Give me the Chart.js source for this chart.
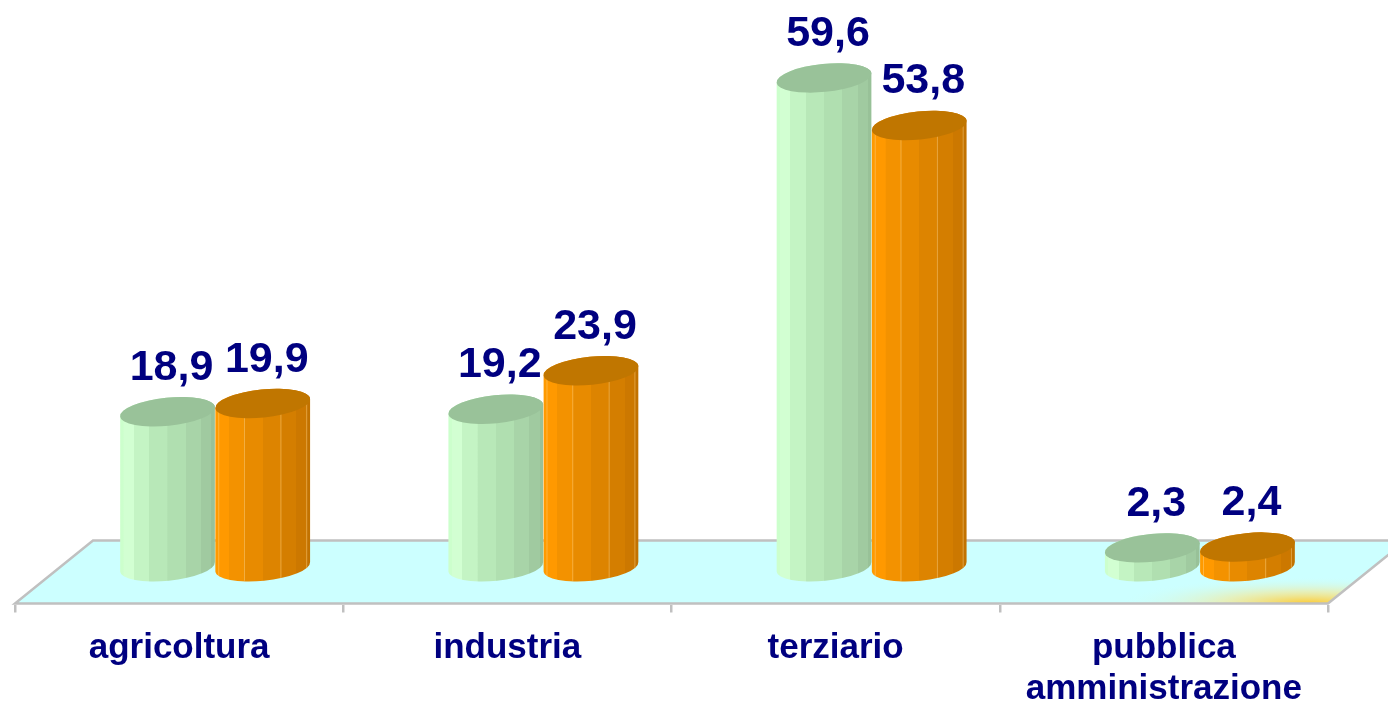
<!DOCTYPE html>
<html>
<head>
<meta charset="utf-8">
<script src="https://cdn.jsdelivr.net/npm/chart.js@4.4.1/dist/chart.umd.min.js"></script>
<style>
  html, body { margin: 0; background: #fff; }
  #wrap { width: 1388px; height: 709px; }
</style>
</head>
<body>
<div id="wrap"><canvas id="grafico"></canvas></div>
<script>
// dati
const categorie = ['agricoltura', 'industria', 'terziario', ['pubblica', 'amministrazione']];
const serieVerde = [18.9, 19.2, 59.6, 2.3];
const serieArancio = [19.9, 23.9, 53.8, 2.4];

const BLU = '#000080';
const PROF = 36;   // spostamento prospettico delle colonne
const RY = 14;     // semiasse verticale dell'ellisse

// colori delle facce (da sinistra a destra)
const facceVerde = ['#ccffcc', '#d2ffd2', '#c4f4c4', '#b8e8b8', '#b0dfb0', '#a8d4a8', '#a0caa0', '#98c198'];
const facceArancio = ['#ff9a00', '#ff9900', '#f39200', '#e88b00', '#dd8400', '#d47e00', '#cc7800', '#c27200'];

function gradienteFacce(ctx, x0, x1, colori) {
  const g = ctx.createLinearGradient(x0, 0, x1, 0);
  const n = colori.length;
  for (let i = 0; i < n; i++) {
    // facce piu strette ai bordi come su un cilindro
    const a = 0.5 - Math.cos(Math.PI * i / n) / 2;
    const b = 0.5 - Math.cos(Math.PI * (i + 1) / n) / 2;
    g.addColorStop(a, colori[i]);
    g.addColorStop(Math.max(a, b - 0.001), colori[i]);
  }
  return g;
}

function cilindro(ctx, cx, top, base, w, colori, coloreTop, righe) {
  const rx = w / 2;
  const tilt = -0.1;
  ctx.save();
  // corpo
  ctx.beginPath();
  ctx.ellipse(cx, base, rx, RY, tilt, 0, Math.PI, false);
  ctx.ellipse(cx, top, rx, RY, tilt, Math.PI, 0, false);
  ctx.closePath();
  ctx.fillStyle = gradienteFacce(ctx, cx - rx, cx + rx, colori);
  ctx.fill();
  if (righe) {
    ctx.clip();
    ctx.strokeStyle = 'rgba(255,215,140,0.45)';
    ctx.lineWidth = 1;
    const n = colori.length;
    for (let i = 1; i < n; i += 2) {
      const x = cx - rx + w * (0.5 - Math.cos(Math.PI * i / n) / 2);
      ctx.beginPath();
      ctx.moveTo(x, top);
      ctx.lineTo(x, base + RY);
      ctx.stroke();
    }
  }
  ctx.restore();
  // coperchio
  ctx.beginPath();
  ctx.ellipse(cx, top, rx, RY, tilt, 0, Math.PI * 2);
  ctx.fillStyle = coloreTop;
  ctx.fill();
}

const pavimento = {
  id: 'pavimento',
  beforeDraw(chart) {
    const { ctx, chartArea } = chart;
    const l = chartArea.left, r = chartArea.right, b = chartArea.bottom - 1;
    const dx = 78, dy = 63;
    ctx.save();
    ctx.beginPath();
    ctx.moveTo(l, b);
    ctx.lineTo(r, b);
    ctx.lineTo(r + dx, b - dy);
    ctx.lineTo(l + dx, b - dy);
    ctx.closePath();
    ctx.fillStyle = '#ccffff';
    ctx.fill();
    ctx.save();
    ctx.clip();
    // riflesso giallo vicino al bordo anteriore
    ctx.translate(r - 20, b);
    ctx.scale(1, 0.14);
    const rg = ctx.createRadialGradient(0, 0, 0, 0, 0, 190);
    rg.addColorStop(0, 'rgba(255,200,40,0.95)');
    rg.addColorStop(0.45, 'rgba(255,225,120,0.5)');
    rg.addColorStop(1, 'rgba(204,255,255,0)');
    ctx.fillStyle = rg;
    ctx.fillRect(-200, -200, 400, 220);
    ctx.restore();
    ctx.strokeStyle = '#c0c0c0';
    ctx.lineWidth = 2.5;
    ctx.stroke();
    ctx.restore();
  }
};

const colonne = {
  id: 'colonne',
  afterDatasetsDraw(chart) {
    const { ctx } = chart;
    const stili = [
      { facce: facceVerde, top: '#99c299', righe: false },
      { facce: facceArancio, top: '#c07600', righe: true }
    ];
    for (let i = 0; i < categorie.length; i++) {
      chart.data.datasets.forEach((ds, d) => {
        const el = chart.getDatasetMeta(d).data[i];
        const s = stili[d];
        cilindro(ctx, el.x + PROF, el.y, el.base, el.width, s.facce, s.top, s.righe);
      });
    }
    // etichette dei valori
    ctx.save();
    ctx.font = 'bold 43px "Liberation Sans", Arial, sans-serif';
    ctx.fillStyle = BLU;
    ctx.textAlign = 'center';
    ctx.textBaseline = 'alphabetic';
    chart.data.datasets.forEach((ds, d) => {
      chart.getDatasetMeta(d).data.forEach((el, i) => {
        const testo = ds.data[i].toFixed(1).replace('.', ',');
        ctx.fillText(testo, el.x + PROF + 4, el.y - RY - 18);
      });
    });
    ctx.restore();
  }
};

new Chart(document.getElementById('grafico'), {
  type: 'bar',
  data: {
    labels: categorie,
    datasets: [
      { label: 'Serie 1', data: serieVerde, backgroundColor: 'rgba(0,0,0,0)' },
      { label: 'Serie 2', data: serieArancio, backgroundColor: 'rgba(0,0,0,0)' }
    ]
  },
  options: {
    responsive: true,
    maintainAspectRatio: false,
    animation: false,
    layout: { padding: { left: 15, right: 60, top: 0, bottom: -16 } },
    plugins: { legend: { display: false }, tooltip: { enabled: false } },
    datasets: { bar: { categoryPercentage: 0.58, barPercentage: 1.0 } },
    scales: {
      x: {
        grid: { display: true, drawOnChartArea: false, offset: true, tickLength: 8, color: '#c0c0c0', lineWidth: 2.5 },
        border: { display: false },
        ticks: {
          color: BLU,
          padding: 16,
          font: { family: '"Liberation Sans", Arial, sans-serif', size: 35, weight: 'bold', lineHeight: 1.15 }
        }
      },
      y: { display: false, min: -4.6, max: 69.1 }
    }
  },
  plugins: [pavimento, colonne]
});
</script>
</body>
</html>
